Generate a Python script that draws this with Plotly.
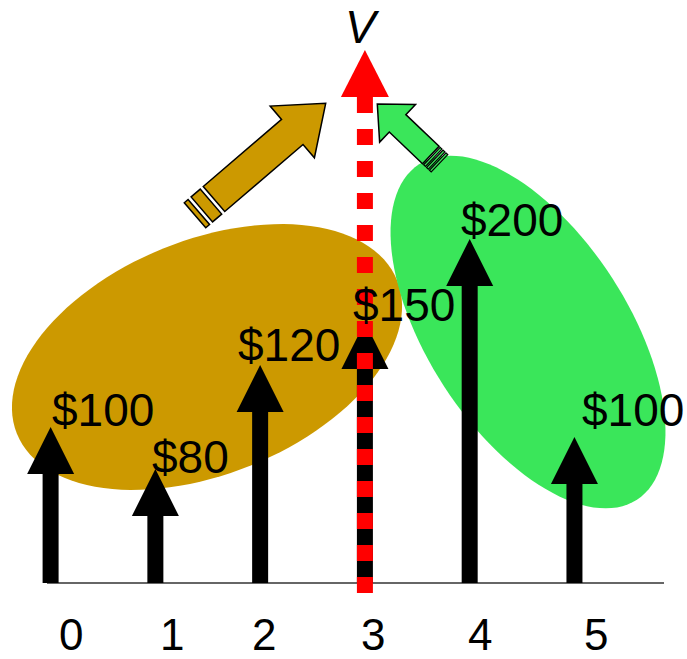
import numpy as np
import plotly.graph_objects as go

# ---- data ----
periods = [0, 1, 2, 3, 4, 5]
amount_labels = ["$100", "$80", "$120", "$150", "$200", "$100"]
arrow_tops = [156, 114, 218, 261, 344, 146]   # drawn arrow lengths (chart units)
tick_labels = ["0", "1", "2", "3", "4", "5"]
highlight_period = 3
axis_label = "V"
red_top = 486
red_bottom = -10
red_tip = 533

# ---- label placement (style, pixels) ----
label_dx = [-1, -5, -24, -14, -11, 6]
label_dy = [17, 12, 20, 17, 19, 27]
tick_dx = [20, 17, 4, 8, 10, 22]

# ---- figure geometry ----
W, H = 687, 659
X0, DX = 50.6, 104.77   # pixel of period 0 and pixels per period
BASE = 583              # pixel row of the time line


def d(px, py):
    return (px - X0) / DX, BASE - py


def path_from_px(pts):
    s = ""
    for i, (px, py) in enumerate(pts):
        x, y = d(px, py)
        s += ("M" if i == 0 else "L") + f"{x:.5f},{y:.3f} "
    return s + "Z"


def ellipse_px(cx, cy, a, b, ang_deg, n=120):
    t = np.linspace(0, 2 * np.pi, n, endpoint=False)
    th = np.radians(ang_deg)
    xs = cx + a * np.cos(t) * np.cos(th) - b * np.sin(t) * np.sin(th)
    ys = cy + a * np.cos(t) * np.sin(th) + b * np.sin(t) * np.cos(th)
    return list(zip(xs, ys))


def block_arrow_px(tail, tip, shaft_w, head_w, head_len):
    tail = np.array(tail, float)
    tip = np.array(tip, float)
    u = tip - tail
    L = np.linalg.norm(u)
    u /= L
    n = np.array([-u[1], u[0]])
    neck = tip - u * head_len
    pts = [tail + n * shaft_w / 2, neck + n * shaft_w / 2, neck + n * head_w / 2, tip,
           neck - n * head_w / 2, neck - n * shaft_w / 2, tail - n * shaft_w / 2]
    return [tuple(p) for p in pts]


def stripe_px(tail, tip, shaft_w, start, width):
    tail = np.array(tail, float)
    tip = np.array(tip, float)
    u = tip - tail
    u /= np.linalg.norm(u)
    n = np.array([-u[1], u[0]])
    a = tail - u * start
    b = tail - u * (start + width)
    pts = [a + n * shaft_w / 2, b + n * shaft_w / 2, b - n * shaft_w / 2, a - n * shaft_w / 2]
    return [tuple(p) for p in pts]


GOLD = "#CC9900"
GREEN = "#3AE65A"
RED = "#FF0000"

shapes = []
# ellipses
shapes.append(dict(type="path", path=path_from_px(ellipse_px(207, 357, 205, 117, -22)),
                   fillcolor=GOLD, line=dict(width=0), layer="below"))
shapes.append(dict(type="path", path=path_from_px(ellipse_px(528, 332, 200, 100, 57)),
                   fillcolor=GREEN, line=dict(width=0), layer="below"))

# gold block arrow
g_tail, g_tip = (214, 199), (325.7, 103.3)
shapes.append(dict(type="path", path=path_from_px(block_arrow_px(g_tail, g_tip, 33, 68, 44)),
                   fillcolor=GOLD, line=dict(color="black", width=1.5), layer="below"))
for st, wd in [(4, 12), (20, 5)]:
    shapes.append(dict(type="path", path=path_from_px(stripe_px(g_tail, g_tip, 33, st, wd)),
                       fillcolor=GOLD, line=dict(color="black", width=1.5), layer="below"))

# green block arrow
gr_tip = (377.3, 104)
gr_tail = (430.8, 155)
shapes.append(dict(type="path", path=path_from_px(block_arrow_px(gr_tail, gr_tip, 24, 52, 28)),
                   fillcolor=GREEN, line=dict(color="black", width=1.5), layer="below"))
for st, wd in [(1.5, 2.5), (5.5, 2.5), (9.5, 2.5)]:
    shapes.append(dict(type="path", path=path_from_px(stripe_px(gr_tail, gr_tip, 24, st, wd)),
                       fillcolor=GREEN, line=dict(color="black", width=1.2), layer="below"))

# time line
x_a, _ = d(47, 0)
x_b, _ = d(664, 0)
shapes.append(dict(type="line", x0=x_a, x1=x_b, y0=0, y1=0,
                   line=dict(color="#333333", width=1.5), layer="below"))

# cash-flow arrows
half_shaft = 8 / DX
half_head = 23.5 / DX
head_len = 47
for p, t in zip(periods, arrow_tops):
    shapes.append(dict(type="rect", x0=p - half_shaft, x1=p + half_shaft, y0=0, y1=t - head_len + 1,
                       fillcolor="black", line=dict(width=0), layer="below"))
    shapes.append(dict(type="path",
                       path=f"M{p - half_head},{t - head_len} L{p},{t} L{p + half_head},{t - head_len} Z",
                       fillcolor="black", line=dict(width=0), layer="below"))

# red head
hr = 24 / DX
shapes.append(dict(type="path",
                   path=f"M{highlight_period - hr},{red_top} L{highlight_period},{red_tip} L{highlight_period + hr},{red_top} Z",
                   fillcolor=RED, line=dict(width=0), layer="above"))

fig = go.Figure()
fig.add_trace(go.Scatter(x=[highlight_period, highlight_period], y=[red_top, red_bottom],
                         mode="lines", line=dict(color=RED, width=16, dash="16px,16px"),
                         hoverinfo="skip", showlegend=False))

FONT = "Liberation Sans, Arial, sans-serif"
annotations = []
for p, t, lab, dx, dy in zip(periods, arrow_tops, amount_labels, label_dx, label_dy):
    annotations.append(dict(x=p, y=t, text=lab, showarrow=False, xanchor="left", yanchor="middle",
                            xshift=dx, yshift=dy, font=dict(family=FONT, size=46, color="black")))
for p, lab, dx in zip(periods, tick_labels, tick_dx):
    annotations.append(dict(x=p, y=-51, text=lab, showarrow=False, xanchor="center", yanchor="middle",
                            xshift=dx, font=dict(family=FONT, size=44, color="black")))
annotations.append(dict(x=highlight_period, y=BASE - 27, text=f"<i>{axis_label}</i>", showarrow=False,
                        xanchor="center", yanchor="middle", xshift=-2,
                        font=dict(family=FONT, size=46, color="black")))

xr0, _ = d(0, 0)
xr1, _ = d(W, 0)
fig.update_layout(
    width=W, height=H, autosize=False,
    margin=dict(l=0, r=0, t=0, b=0),
    paper_bgcolor="white", plot_bgcolor="white",
    xaxis=dict(range=[xr0, xr1], visible=False, fixedrange=True),
    yaxis=dict(range=[BASE - H, BASE], visible=False, fixedrange=True),
    shapes=shapes, annotations=annotations, showlegend=False,
)
fig.write_html("out.html", config={"displayModeBar": False},
               post_script="document.body.style.margin='0';document.body.style.overflow='hidden';")
